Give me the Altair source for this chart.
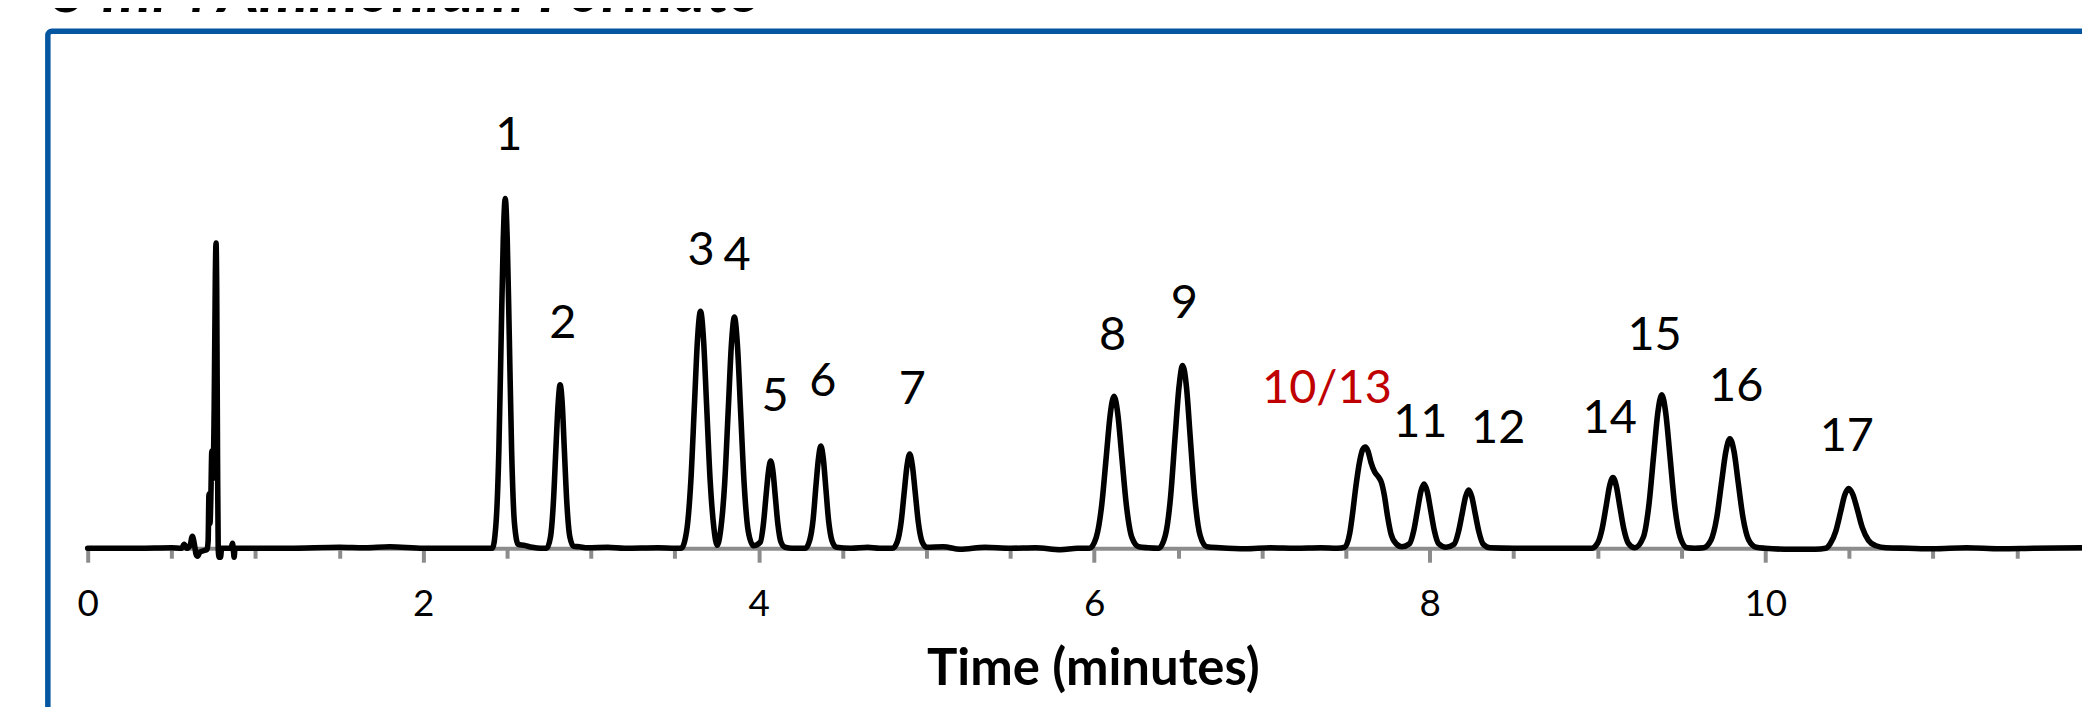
import altair as alt
import pandas as pd

# ---- chromatogram trace (time in minutes, signal in arbitrary units) ----
time_min = [
    0.000, 0.300, 0.500, 0.560, 0.575, 0.590, 0.610, 0.624, 0.636, 0.646, 0.655, 0.668, 0.690, 0.712,
    0.718, 0.723, 0.729, 0.734, 0.740, 0.746, 0.754, 0.761, 0.765, 0.769, 0.774, 0.778, 0.783, 0.792,
    0.798, 0.855, 0.863, 0.869, 0.873, 0.878, 0.950, 1.200, 1.500, 1.650, 1.800, 2.000, 2.300,
    # peak 1
    2.412, 2.434, 2.451, 2.465, 2.477, 2.489, 2.501, 2.513, 2.527, 2.544, 2.566, 2.600, 2.650, 2.700,
    # peak 2
    2.736, 2.759, 2.776, 2.791, 2.804, 2.816, 2.829, 2.841, 2.856, 2.874, 2.896, 2.930, 2.980, 3.100,
    3.200, 3.400, 3.500,
    # peaks 3, 4
    3.538, 3.570, 3.595, 3.617, 3.635, 3.653, 3.671, 3.689, 3.711, 3.733, 3.753,
    3.772, 3.797, 3.819, 3.837, 3.855, 3.873, 3.891, 3.913, 3.938, 3.968,
    # peak 5
    4.009, 4.028, 4.044, 4.058, 4.071, 4.085, 4.098, 4.114, 4.133, 4.157, 4.200,
    # peak 6
    4.277, 4.303, 4.324, 4.341, 4.356, 4.370, 4.385, 4.399, 4.416, 4.437, 4.463, 4.550, 4.650, 4.720,
    # peak 7
    4.798, 4.826, 4.849, 4.868, 4.884, 4.900, 4.916, 4.932, 4.951, 4.974, 5.002, 5.100, 5.200, 5.350,
    5.500, 5.650, 5.800, 5.900,
    # peak 8
    5.971, 6.012, 6.044, 6.072, 6.095, 6.118, 6.141, 6.164, 6.192, 6.224, 6.265, 6.320,
    # peak 9
    6.383, 6.424, 6.455, 6.482, 6.505, 6.527, 6.550, 6.572, 6.599, 6.631, 6.671, 6.750, 6.900, 7.050,
    7.200, 7.350, 7.450,
    # peak 10/13
    7.493, 7.523, 7.540, 7.558, 7.583, 7.600, 7.616, 7.632, 7.650, 7.672, 7.695, 7.712, 7.730, 7.748,
    7.768, 7.800, 7.834,
    # peak 11
    7.879, 7.905, 7.928, 7.947, 7.966, 7.985, 8.004, 8.027, 8.053, 8.097,
    # peak 12
    8.145, 8.171, 8.194, 8.213, 8.232, 8.251, 8.270, 8.293, 8.319, 8.360, 8.500, 8.700, 8.900,
    # peak 14
    8.964, 9.000, 9.028, 9.052, 9.072, 9.092, 9.112, 9.132, 9.156, 9.184, 9.222,
    # peak 15
    9.273, 9.306, 9.335, 9.359, 9.383, 9.407, 9.431, 9.460, 9.493, 9.535, 9.580,
    # peak 16
    9.632, 9.676, 9.711, 9.740, 9.765, 9.789, 9.814, 9.838, 9.867, 9.902, 9.946, 10.000, 10.150, 10.300,
    # peak 17
    10.360, 10.387, 10.420, 10.449, 10.473, 10.497, 10.522, 10.547, 10.578, 10.615, 10.660, 10.720,
    10.850, 11.000, 11.200, 11.400, 11.600, 11.888,
]
signal = [
    0.0, 0.0, 0.1, 0.0, 0.8, 0.0, 0.6, 2.4, 0.8, -1.2, -1.6, -0.8, -0.5, -0.2,
    1.5, 10.9, 5.0, 10.0, 19.5, 14.0, 28.0, 55.0, 61.3, 52.0, 18.0, 0.0, -1.8, -1.8,
    0.0, 0.0, 1.0, -0.6, -1.8, 0.0, 0.0, 0.0, 0.2, 0.1, 0.3, 0.0, 0.0,
    0.0, 5.0, 19.7, 42.8, 61.8, 70.2, 61.8, 42.8, 19.7, 5.0, 0.8, 0.6, 0.2, 0.0,
    0.0, 2.3, 9.2, 20.0, 28.9, 32.8, 28.9, 20.0, 9.2, 2.3, 0.4, 0.3, 0.1, 0.2,
    0.0, 0.1, 0.0,
    0.0, 3.4, 13.3, 29.0, 41.9, 47.6, 41.9, 29.0, 13.3, 4.0, 0.6,
    3.4, 13.0, 28.3, 40.8, 46.4, 40.8, 28.3, 13.0, 3.3, 0.5,
    1.2, 4.9, 10.7, 15.4, 17.5, 15.4, 10.7, 4.9, 1.2, 0.2, 0.0,
    0.0, 1.5, 5.7, 12.5, 18.0, 20.5, 18.0, 12.5, 5.7, 1.5, 0.2, 0.0, 0.2, 0.0,
    0.0, 1.3, 5.3, 11.5, 16.6, 18.9, 16.6, 11.5, 5.3, 1.3, 0.2, 0.3, -0.2, 0.2,
    0.0, 0.1, -0.3, 0.0,
    0.0, 2.2, 8.5, 18.5, 26.8, 30.5, 26.8, 18.5, 8.5, 2.2, 0.3, 0.1,
    0.0, 2.6, 10.3, 22.4, 32.3, 36.7, 32.3, 22.4, 10.3, 2.6, 0.3, 0.1, -0.1, 0.1,
    0.0, 0.1, 0.0,
    0.2, 3.0, 7.0, 12.0, 17.6, 19.8, 20.3, 19.5, 17.2, 15.3, 14.3, 13.2, 10.5, 6.5,
    3.0, 0.9, 0.3,
    0.9, 3.6, 7.9, 11.4, 12.9, 11.4, 7.9, 3.6, 0.9, 0.2,
    0.8, 3.3, 7.1, 10.3, 11.7, 10.3, 7.1, 3.3, 0.8, 0.1, 0.0, 0.0, 0.0,
    0.0, 1.0, 4.0, 8.6, 12.5, 14.2, 12.5, 8.6, 4.0, 1.0, 0.1,
    2.2, 8.6, 18.8, 27.1, 30.8, 27.1, 18.8, 8.6, 2.2, 0.1, 0.0,
    0.1, 1.6, 6.2, 13.4, 19.4, 22.0, 19.4, 13.4, 6.2, 1.6, 0.2, 0.0, -0.2, -0.2,
    0.0, 0.9, 3.4, 7.3, 10.6, 12.0, 10.8, 8.0, 4.2, 1.6, 0.5, 0.1,
    0.0, -0.1, 0.1, -0.1, 0.0, 0.1,
]

# ---- peak labels ----
peak_labels = ["1", "2", "3", "4", "5", "6", "7", "8", "9", "10/13", "11", "12", "14", "15", "16", "17"]
label_time = [2.510, 2.832, 3.657, 3.871, 4.097, 4.382, 4.916, 6.110, 6.537, 7.387, 7.944, 8.408,
              9.073, 9.340, 9.827, 10.486]
label_level = [79.9, 42.3, 56.9, 55.9, 27.5, 30.5, 28.9, 39.9, 46.3, 29.1, 22.3, 21.1, 23.1, 39.9,
               29.5, 19.5]

major_ticks = [0, 2, 4, 6, 8, 10]
minor_ticks = [0.5, 1, 1.5, 2.5, 3, 3.5, 4.5, 5, 5.5, 6.5, 7, 7.5, 8.5, 9, 9.5, 10.5, 11, 11.5]
x_domain = [0, 11.888]
y_domain = [0, 100]

title_text = "5 mM Ammonium Formate"
x_title = "Time (minutes)"

trace = pd.DataFrame({"time": time_min, "signal": signal})
labels = pd.DataFrame({"label": peak_labels, "time": label_time, "level": label_level})

GRAY = "#8c8c8c"
FONT = "Lato"

xscale = alt.Scale(domain=x_domain, nice=False, zero=False)
yscale = alt.Scale(domain=y_domain, nice=False, zero=False)

frame = alt.Chart(alt.Data(values=[{}])).mark_rect(
    fill="white", fillOpacity=0, stroke="#0556A1", strokeWidth=5.5, cornerRadius=4
).encode(
    x=alt.value(-40), x2=alt.value(2200), y=alt.value(-19), y2=alt.value(900)
)

line = alt.Chart(trace).mark_line(
    color="black", strokeWidth=5.6, interpolate="monotone", strokeJoin="round", strokeCap="round"
).encode(
    x=alt.X("time:Q", scale=xscale,
            axis=alt.Axis(values=major_ticks, orient="bottom", grid=False,
                          domainColor=GRAY, domainWidth=4,
                          tickColor=GRAY, tickWidth=4, tickSize=14,
                          labelFont=FONT, labelFontSize=37, labelColor="black",
                          labelPadding=24, labelFlush=False,
                          title=x_title, titleFont=FONT, titleFontSize=51,
                          titleFontWeight="bold", titleColor="black",
                          titleBaseline="top", titleY=97, titleX=1009)),
    y=alt.Y("signal:Q", scale=yscale, axis=None),
)

text = alt.Chart(labels).mark_text(
    font=FONT, fontSize=47, baseline="alphabetic", align="center"
).encode(
    x=alt.X("time:Q", scale=xscale,
            axis=alt.Axis(values=minor_ticks, orient="bottom", grid=False, labels=False,
                          domain=False, tickColor=GRAY, tickWidth=4, tickSize=10, title=None)),
    y=alt.Y("level:Q", scale=yscale, axis=None),
    text="label:N",
    color=alt.condition(alt.datum.label == "10/13", alt.value("#C00000"), alt.value("black")),
)

title = alt.Chart(alt.Data(values=[{}])).mark_text(
    font=FONT, fontSize=63, fontWeight="bold", fontStyle="italic", align="left",
    baseline="alphabetic", color="black"
).encode(x=alt.value(-36), y=alt.value(-38), text=alt.value(title_text))

chart = alt.layer(frame, line, text, title).resolve_axis(x="independent").properties(
    width=2002, height=500,
    autosize=alt.AutoSizeParams(type="none"),
    padding={"left": 80, "top": 41, "right": 0, "bottom": 158},
    background="white",
).configure_view(stroke=None)

chart.save("out.html", embed_options={"renderer": "svg", "actions": False})
